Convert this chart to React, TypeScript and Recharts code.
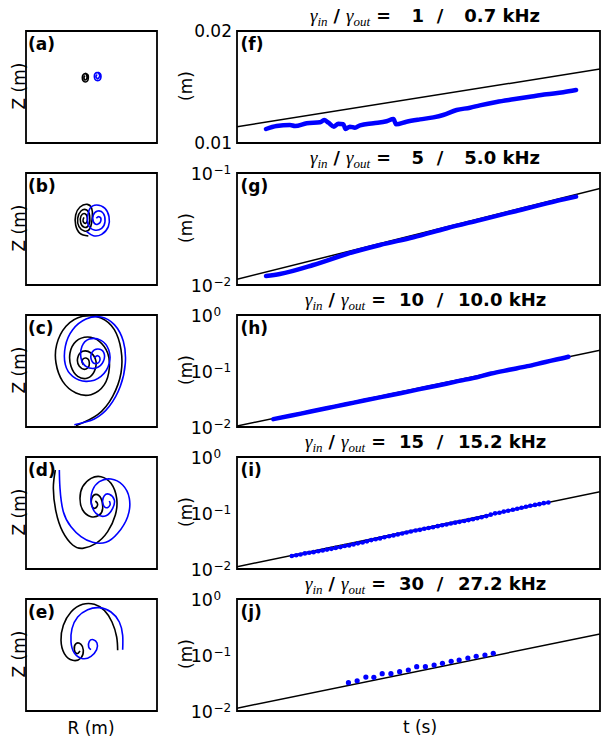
import React from "react";
import { LineChart, Line, XAxis, YAxis, ReferenceArea } from "recharts";

const BLUE = "#0000ff";
const FONT = "DejaVu Sans, sans-serif";
const MATH = "Liberation Serif, DejaVu Serif, serif";

// ---------- left column: traces in the R-Z plane (arbitrary units, frame = 393 x 336)
const orbitABlack = [
  [178, 209], [186, 204], [187, 196], [185, 187], [178, 183], [171, 187], [169, 196], [171, 204],
  [178, 208], [182, 203], [183, 196], [178, 189], [174, 196], [177, 202],
];
const orbitABlue = [
  [215, 212], [223, 208], [225, 200], [223, 191], [215, 187], [207, 191], [205, 200], [207, 208],
  [215, 211], [220, 206], [221, 200], [215, 193], [210, 200], [214, 205],
];
const orbitBBlack = [
  [187, 147], [162, 155], [149, 180], [149, 210], [162, 234], [184, 242], [197, 230], [199, 205],
  [192, 170], [175, 162], [159, 175], [155, 200], [165, 222], [182, 225], [191, 208], [189, 182],
  [175, 173], [164, 187], [165, 207], [177, 214], [184, 200], [179, 185], [171, 192], [174, 203],
];
const orbitBBlue = [
  [182, 160], [202, 148], [227, 152], [247, 175], [249, 205], [237, 230], [212, 240], [192, 230],
  [185, 205], [187, 180], [205, 165], [227, 170], [237, 190], [232, 215], [215, 222], [202, 210],
  [202, 190], [215, 182], [225, 195], [219, 205], [211, 200],
];
const orbitCBlack = [
  [150, 4], [215, 37], [260, 92], [285, 162], [285, 232], [265, 292], [225, 327], [170, 332],
  [120, 302], [92, 247], [90, 192], [110, 137], [150, 102], [195, 97], [235, 127], [250, 177],
  [245, 222], [220, 257], [185, 270], [150, 257], [132, 222], [135, 182], [155, 152], [185, 147],
  [205, 167], [210, 197], [195, 222], [170, 227], [155, 207], [160, 182], [180, 174], [190, 192],
  [180, 207], [168, 199], [172, 187],
];
const orbitCBlue = [
  [145, 7], [205, 24], [250, 62], [283, 122], [298, 192], [292, 257], [265, 307], [225, 330],
  [180, 324], [140, 292], [118, 242], [118, 187], [140, 152], [180, 137], [225, 152], [250, 192],
  [248, 232], [225, 260], [190, 264], [168, 242], [165, 207], [180, 182], [210, 177], [232, 197],
  [233, 224], [215, 234], [198, 224], [196, 202], [210, 190], [222, 202], [215, 214], [205, 207],
];
const orbitDBlack = [
  [88, 297], [82, 242], [90, 172], [110, 112], [140, 72], [170, 62], [210, 77], [245, 112],
  [268, 162], [272, 212], [255, 257], [225, 277], [195, 272], [170, 247], [162, 212], [170, 177],
  [195, 157], [220, 162], [230, 182], [225, 212], [210, 224], [198, 214], [197, 192], [207, 182],
  [215, 194], [208, 204],
];
const orbitDBlue = [
  [100, 297], [102, 242], [112, 172], [135, 127], [165, 97], [200, 80], [240, 80], [275, 107],
  [305, 157], [310, 212], [290, 252], [255, 270], [220, 262], [200, 237], [195, 202], [210, 167],
  [240, 160], [260, 182], [265, 207], [250, 224], [235, 220], [230, 200], [240, 184], [252, 192],
  [250, 204],
];
const orbitEBlack = [
  [275, 182], [272, 222], [258, 267], [235, 302], [205, 320], [170, 320], [135, 297], [112, 257],
  [105, 212], [115, 172], [140, 152], [165, 159], [172, 182], [165, 200], [150, 202], [145, 184],
  [153, 172], [162, 180],
];
const orbitEBlue = [
  [290, 184], [290, 227], [280, 267], [255, 297], [220, 310], [185, 304], [155, 282], [138, 247],
  [135, 207], [145, 174], [170, 157], [195, 164], [212, 184], [213, 204], [202, 214], [190, 209],
  [188, 192], [195, 184],
];

// ---------- right column: amplitude vs time (t in % of window)
const fitF = [[0, 0.01146], [100, 0.0166]];
const measF = [
  [8.0, 0.01125], [10.9, 0.01152], [14.6, 0.01161], [16.0, 0.01152], [19.2, 0.01176], [22.9, 0.01185],
  [24.0, 0.01205], [25.2, 0.01181], [26.7, 0.01146], [27.9, 0.01172], [29.3, 0.01167], [29.9, 0.01125],
  [31.1, 0.01146], [32.5, 0.01137], [33.9, 0.01158], [37.6, 0.01176], [41.2, 0.01194], [43.1, 0.01214],
  [43.8, 0.01167], [46.7, 0.0119], [50.4, 0.01211], [54.1, 0.01229], [56.8, 0.0125], [60.5, 0.01295],
  [64.2, 0.01315], [66.9, 0.01336], [71.5, 0.01366], [76.1, 0.0139], [80.7, 0.01413], [85.3, 0.01435],
  [89.9, 0.01453], [93.4, 0.01473],
];
const fitG = [[0, 0.01124], [100, 0.0729]];
const measG = [
  [8.0, 0.01203], [11.8, 0.01253], [21.0, 0.01508], [30.2, 0.01892], [39.4, 0.02276], [48.6, 0.0267],
  [57.8, 0.0321], [66.9, 0.038], [76.1, 0.0451], [85.3, 0.0536], [93.4, 0.0615],
];
const fitH = [[0, 0.0104], [100, 0.234]];
const measH = [
  [10, 0.0138], [15, 0.016], [20, 0.0187], [25, 0.0218], [30, 0.0254], [35, 0.0297], [40, 0.0345],
  [45, 0.04], [50, 0.047], [55, 0.0545], [60, 0.064], [65, 0.0745], [70, 0.09], [75, 0.105],
  [80, 0.122], [85, 0.145], [88, 0.16], [91.3, 0.18],
];
const fitI = [[0, 0.011], [100, 0.24]];
const measI = [
  [15.1, 0.0171], [16.3, 0.0176], [17.5, 0.0182], [18.7, 0.019], [19.9, 0.0195], [21.1, 0.02],
  [22.4, 0.0207], [23.6, 0.0214], [24.8, 0.0222], [26.0, 0.0229], [27.2, 0.0238], [28.5, 0.0246],
  [29.7, 0.0257], [30.9, 0.0264], [32.1, 0.0275], [33.3, 0.0287], [34.6, 0.0298], [35.8, 0.0312],
  [37.0, 0.0328], [38.2, 0.034], [39.4, 0.0352], [40.6, 0.0369], [41.9, 0.0384], [43.1, 0.0398],
  [44.3, 0.0415], [45.5, 0.043], [46.7, 0.0448], [47.9, 0.0468], [49.2, 0.0488], [50.4, 0.05],
  [51.6, 0.0522], [52.8, 0.0541], [54.0, 0.0558], [55.3, 0.0582], [56.5, 0.0605], [57.7, 0.0625],
  [58.9, 0.0651], [60.1, 0.0672], [61.3, 0.0695], [62.6, 0.0721], [63.8, 0.0747], [65.0, 0.0772],
  [66.2, 0.0806], [67.4, 0.0842], [68.7, 0.088], [69.9, 0.0935], [71.1, 0.0985], [72.3, 0.101],
  [73.5, 0.106], [74.7, 0.1098], [76.0, 0.114], [77.2, 0.119], [78.4, 0.124], [79.6, 0.129],
  [80.8, 0.135], [82.1, 0.1395], [83.3, 0.144], [84.5, 0.15], [85.8, 0.154],
];
const fitJ = [[0, 0.0112], [100, 0.237]];
const measJ = [
  [30.7, 0.0321], [33.1, 0.0347], [35.5, 0.0404], [37.7, 0.04], [40.0, 0.0464], [42.4, 0.0464],
  [44.8, 0.0504], [47.2, 0.054], [49.5, 0.0618], [51.9, 0.0618], [54.3, 0.0662], [56.6, 0.0711],
  [59.0, 0.0771], [61.2, 0.0814], [63.6, 0.0884], [65.9, 0.0948], [68.3, 0.1], [70.6, 0.107],
];

const ticksLin = [0.01, 0.02];
const ticksOneDecade = [0.01, 0.1];
const minorOneDecade = [0.02, 0.03, 0.04, 0.05, 0.06, 0.07, 0.08, 0.09];
const ticksTwoDecades = [0.01, 0.1, 1];
const minorTwoDecades = [0.02, 0.03, 0.04, 0.05, 0.06, 0.07, 0.08, 0.09, 0.2, 0.3, 0.4, 0.5, 0.6, 0.7, 0.8, 0.9];

const gammaIn = ["1", "5", "10", "15", "30"];
const gammaOut = ["0.7", "5.0", "10.0", "15.2", "27.2"];
const leftLetters = ["(a)", "(b)", "(c)", "(d)", "(e)"];
const rightLetters = ["(f)", "(g)", "(h)", "(i)", "(j)"];

const ROW_TOPS = [31, 173, 315, 457, 599];

const rz = (a: number[][]) => a.map(([r, z]) => ({ r, z }));
const tv = (a: number[][]) => a.map(([t, v]) => ({ t, v }));

const OrbitPanel = ({ top, black, blue }: { top: number; black: number[][]; blue: number[][] }) => (
  <div style={{ position: "absolute", left: 21, top: top - 5 }}>
    <LineChart width={141} height={122} margin={{ top: 5, right: 5, bottom: 5, left: 5 }}>
      <XAxis dataKey="r" type="number" domain={[0, 393]} allowDataOverflow hide />
      <YAxis type="number" domain={[0, 336]} allowDataOverflow hide />
      <ReferenceArea x1={0} x2={393} y1={0} y2={336} fill="none" stroke="#000" strokeWidth={1.8} />
      <Line data={rz(black)} dataKey="z" type="natural" stroke="#000" strokeWidth={1.6}
        dot={false} isAnimationActive={false} />
      <Line data={rz(blue)} dataKey="z" type="natural" stroke={BLUE} strokeWidth={1.6}
        dot={false} isAnimationActive={false} />
    </LineChart>
  </div>
);

const blankTick = () => <g />;

const makeTick = (log: boolean) => (props: any) => {
  const { x, y, payload } = props;
  if (!log) {
    return (
      <text x={x} y={y + 6} textAnchor="end" fontFamily={FONT} fontSize={17} fill="#000">
        {payload.value.toFixed(2)}
      </text>
    );
  }
  const e = Math.round(Math.log10(payload.value));
  return (
    <g>
      <text x={x} y={y + 6.5} textAnchor="end" fontFamily={FONT} fontSize={17.5} fill="#000">10</text>
      <text x={x + 0.5} y={y + 1} fontFamily={FONT} fontSize={12} fill="#000">
        {e < 0 ? "\u2212" + -e : String(e)}
      </text>
    </g>
  );
};

type GrowthProps = {
  top: number;
  log: boolean;
  domain: [number, number];
  major: number[];
  minor: number[];
  fit: number[][];
  meas: number[][];
  mode: "thick" | "beads" | "dots";
};

const GrowthPanel = ({ top, log, domain, major, minor, fit, meas, mode }: GrowthProps) => {
  const scale = log ? "log" : "linear";
  return (
    <div style={{ position: "absolute", left: 180, top: top - 20 }}>
      <LineChart width={422} height={152} margin={{ top: 20, right: 2, bottom: 20, left: 0 }}>
        <XAxis dataKey="t" type="number" domain={[0, 100]} allowDataOverflow hide />
        <YAxis yAxisId="lab" type="number" scale={scale} domain={domain} allowDataOverflow width={57}
          ticks={major} interval={0} tickLine={false} axisLine={false} tickSize={0}
          tickMargin={log ? 24 : 5} tick={makeTick(log)} />
        <YAxis yAxisId="maj" type="number" scale={scale} domain={domain} allowDataOverflow mirror width={0}
          ticks={major} interval={0} axisLine={false} tickSize={5} stroke="#000" tick={blankTick} />
        <YAxis yAxisId="majR" orientation="right" type="number" scale={scale} domain={domain} allowDataOverflow
          mirror width={0} ticks={major} interval={0} axisLine={false} tickSize={5} stroke="#000" tick={blankTick} />
        {minor.length > 0 && (
          <YAxis yAxisId="min" type="number" scale={scale} domain={domain} allowDataOverflow mirror width={0}
            ticks={minor} interval={0} axisLine={false} tickSize={2.5} stroke="#000" tick={blankTick} />
        )}
        {minor.length > 0 && (
          <YAxis yAxisId="minR" orientation="right" type="number" scale={scale} domain={domain} allowDataOverflow
            mirror width={0} ticks={minor} interval={0} axisLine={false} tickSize={2.5} stroke="#000" tick={blankTick} />
        )}
        <ReferenceArea yAxisId="lab" x1={0} x2={100} y1={domain[0]} y2={domain[1]} fill="none"
          stroke="#000" strokeWidth={1.8} />
        <Line yAxisId="lab" data={tv(fit)} dataKey="v" type="linear" stroke="#000" strokeWidth={1.5}
          dot={false} isAnimationActive={false} />
        {mode === "thick" && (
          <Line yAxisId="lab" data={tv(meas)} dataKey="v" type="monotone" stroke={BLUE} strokeWidth={4.5}
            strokeLinecap="round" dot={false} isAnimationActive={false} />
        )}
        {mode === "beads" && (
          <Line yAxisId="lab" data={tv(meas)} dataKey="v" type="linear" stroke={BLUE} strokeWidth={2.5}
            dot={{ r: 2.3, fill: BLUE, stroke: "none" }} isAnimationActive={false} />
        )}
        {mode === "dots" && (
          <Line yAxisId="lab" data={tv(meas)} dataKey="v" type="linear" stroke="none"
            dot={{ r: 2.6, fill: BLUE, stroke: "none" }} isAnimationActive={false} />
        )}
      </LineChart>
    </div>
  );
};

const Annotations = () => (
  <svg width={602} height={740} style={{ position: "absolute", left: 0, top: 0, pointerEvents: "none" }}>
    {ROW_TOPS.map((top, i) => {
      const base = top - 9.5;
      const eqEnd = gammaIn[i].length > 1 ? 386 : 391;
      return (
        <g key={i}>
          <text x={eqEnd} y={base} textAnchor="end" fontSize={17.5} fill="#000" style={{ whiteSpace: "pre" }}>
            <tspan fontFamily={MATH} fontStyle="italic" fontSize={19}>γ</tspan>
            <tspan fontFamily={MATH} fontStyle="italic" fontSize={13} dy={4}>in</tspan>
            <tspan fontFamily={FONT} fontWeight="bold" dy={-4}>{" / "}</tspan>
            <tspan fontFamily={MATH} fontStyle="italic" fontSize={19}>γ</tspan>
            <tspan fontFamily={MATH} fontStyle="italic" fontSize={13} dy={4}>out</tspan>
            <tspan fontFamily={FONT} fontWeight="bold" dy={-4}>{" ="}</tspan>
          </text>
          <text x={424} y={base} textAnchor="end" fontFamily={FONT} fontWeight="bold" fontSize={18}>
            {gammaIn[i]}
          </text>
          <text x={440} y={base} textAnchor="middle" fontFamily={FONT} fontWeight="bold" fontSize={18}>/</text>
          <text x={458} y={base} fontFamily={FONT} fontWeight="bold" fontSize={18} style={{ whiteSpace: "pre" }}>
            {(gammaOut[i].length < 4 ? " " : "") + gammaOut[i] + " kHz"}
          </text>
          <text x={28} y={top + 18.5} fontFamily={FONT} fontWeight="bold" fontSize={17}>{leftLetters[i]}</text>
          <text x={240.5} y={top + 18.5} fontFamily={FONT} fontWeight="bold" fontSize={17}>{rightLetters[i]}</text>
          <text transform={`translate(24.5, ${top + 55}) rotate(-90)`} textAnchor="middle"
            fontFamily={FONT} fontSize={17}>Z (m)</text>
          <text transform={`translate(191.5, ${top + 55}) rotate(-90)`} textAnchor="middle"
            fontFamily={FONT} fontSize={17}>(m)</text>
        </g>
      );
    })}
    <text x={91} y={734} textAnchor="middle" fontFamily={FONT} fontSize={17}>R (m)</text>
    <text x={420} y={733} textAnchor="middle" fontFamily={FONT} fontSize={17}>t (s)</text>
  </svg>
);

export default function App() {
  return (
    <div style={{ position: "absolute", left: 0, top: 0, width: 602, height: 740, background: "#fff", overflow: "hidden" }}>
      <OrbitPanel top={ROW_TOPS[0]} black={orbitABlack} blue={orbitABlue} />
      <OrbitPanel top={ROW_TOPS[1]} black={orbitBBlack} blue={orbitBBlue} />
      <OrbitPanel top={ROW_TOPS[2]} black={orbitCBlack} blue={orbitCBlue} />
      <OrbitPanel top={ROW_TOPS[3]} black={orbitDBlack} blue={orbitDBlue} />
      <OrbitPanel top={ROW_TOPS[4]} black={orbitEBlack} blue={orbitEBlue} />

      <GrowthPanel top={ROW_TOPS[0]} log={false} domain={[0.01, 0.02]} major={ticksLin} minor={[]}
        fit={fitF} meas={measF} mode="thick" />
      <GrowthPanel top={ROW_TOPS[1]} log domain={[0.01, 0.1]} major={ticksOneDecade} minor={minorOneDecade}
        fit={fitG} meas={measG} mode="thick" />
      <GrowthPanel top={ROW_TOPS[2]} log domain={[0.01, 1]} major={ticksTwoDecades} minor={minorTwoDecades}
        fit={fitH} meas={measH} mode="thick" />
      <GrowthPanel top={ROW_TOPS[3]} log domain={[0.01, 1]} major={ticksTwoDecades} minor={minorTwoDecades}
        fit={fitI} meas={measI} mode="beads" />
      <GrowthPanel top={ROW_TOPS[4]} log domain={[0.01, 1]} major={ticksTwoDecades} minor={minorTwoDecades}
        fit={fitJ} meas={measJ} mode="dots" />

      <Annotations />
    </div>
  );
}
